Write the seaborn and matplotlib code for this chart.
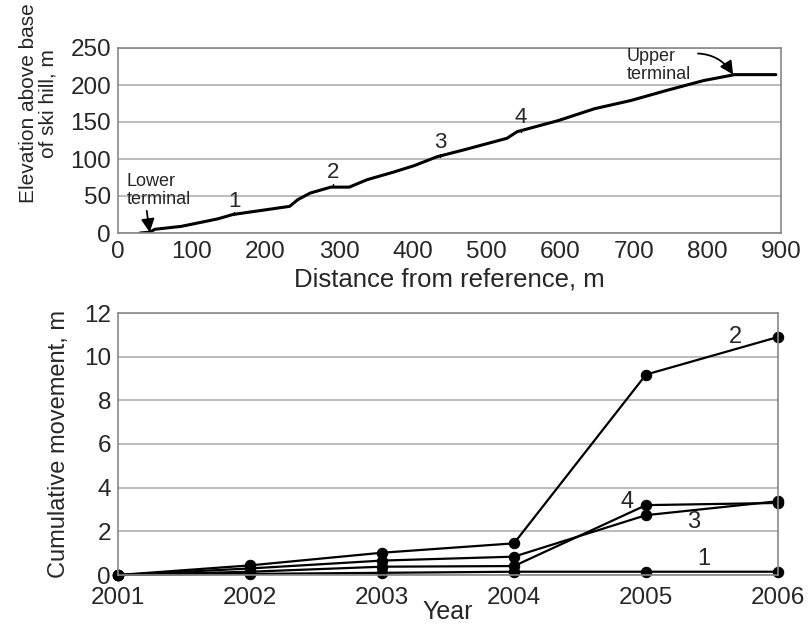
import matplotlib
matplotlib.use("Agg")
import matplotlib.pyplot as plt
import seaborn as sns
import pandas as pd

# ---- data: elevation profile ----
distance_m = [30, 43, 50, 86, 135, 156, 191, 233, 244, 261, 289, 314, 338, 373,
              402, 433, 472, 528, 542, 598, 647, 696, 746, 795, 837, 893]
elevation_m = [0, 1, 5, 9, 19, 25, 30, 36, 45, 54, 62, 62, 72, 82,
               91, 103, 113, 128, 137, 152, 168, 179, 193, 206, 214, 214]
station_labels = ["1", "2", "3", "4"]
station_dist = [158, 292, 437, 547]
station_elev = [24, 62, 103, 137]

# ---- data: cumulative movement ----
years = [2001, 2002, 2003, 2004, 2005, 2006]
move_1 = [0.0, 0.05, 0.10, 0.15, 0.15, 0.15]
move_2 = [0.0, 0.44, 1.02, 1.45, 9.18, 10.9]
move_3 = [0.0, 0.30, 0.66, 0.84, 2.74, 3.38]
move_4 = [0.0, 0.15, 0.38, 0.41, 3.20, 3.30]
series_names = ["1", "2", "3", "4"]

REG = ["Liberation Sans", "DejaVu Sans"]

sns.set_style("white")
plt.rcParams["font.family"] = REG

fig = plt.figure(figsize=(8.09, 6.29), dpi=100)
ax1 = fig.add_axes([118 / 809, 1 - 233 / 629, 663 / 809, 185 / 629])
ax2 = fig.add_axes([118 / 809, 1 - 575 / 629, 660 / 809, 262 / 629])

grid_c = "#b0b0b0"

# ---------- top plot ----------
prof = pd.DataFrame({"d": distance_m, "e": elevation_m})
sns.lineplot(data=prof, x="d", y="e", ax=ax1, color="black", lw=2.2)
ax1.set_xlim(0, 900)
ax1.set_ylim(0, 250)
ax1.set_xticks(range(0, 901, 100))
ax1.set_yticks(range(0, 251, 50))
ax1.yaxis.grid(True, color=grid_c, lw=1.2)
ax1.set_axisbelow(True)
ax1.set_xlabel("Distance from reference, m", fontsize=18.5, labelpad=3)
ax1.set_ylabel("Elevation above base\nof ski hill, m", fontsize=15,
               linespacing=1.0)
ax1.yaxis.set_label_coords(-0.092, 0.70)
for lab, d, e in zip(station_labels, station_dist, station_elev):
    ax1.text(d, e + 5, lab, fontsize=16, ha="center", va="bottom")
    ax1.plot([d, d], [e, e + 4], color="black", lw=1)
ax1.text(12, 57, "Lower\nterminal", fontsize=13, ha="left", va="center",
         linespacing=1.05)
ax1.annotate("", xy=(43, 1), xytext=(39, 30),
             arrowprops=dict(arrowstyle="-|>", color="black", lw=1.3,
                             mutation_scale=20, shrinkA=0, shrinkB=0))
ax1.annotate("Upper\nterminal", xy=(835, 214), xytext=(690, 226), fontsize=13,
             ha="left", va="center", linespacing=1.05,
             arrowprops=dict(arrowstyle="-|>", color="black", lw=1.3,
                             mutation_scale=20, shrinkA=3, shrinkB=0,
                             relpos=(1.0, 0.85),
                             connectionstyle="arc3,rad=-0.3"))

# ---------- bottom plot ----------
rows = []
for name, vals in zip(series_names, [move_1, move_2, move_3, move_4]):
    for y, v in zip(years, vals):
        rows.append({"year": y, "move": v, "series": name})
mv = pd.DataFrame(rows)
sns.lineplot(data=mv, x="year", y="move", units="series", estimator=None,
             ax=ax2, color="black", lw=1.6, marker="o", markersize=7.5,
             markeredgecolor="black", markerfacecolor="black", clip_on=False)
ax2.set_xlim(2001, 2006)
ax2.set_ylim(0, 12)
ax2.set_xticks(years)
ax2.set_yticks(range(0, 13, 2))
ax2.yaxis.grid(True, color=grid_c, lw=1.2)
ax2.set_axisbelow(True)
ax2.set_xlabel("Year", fontsize=18, labelpad=-7)
ax2.set_ylabel("Cumulative movement, m", fontsize=17)
ax2.yaxis.set_label_coords(-0.073, 0.5)
label_pos = {"1": (2005.44, 0.72), "2": (2005.68, 10.9),
             "3": (2005.36, 2.44), "4": (2004.86, 3.35)}
for name in series_names:
    x, y = label_pos[name]
    ax2.text(x, y, name, fontsize=17, ha="center", va="center")

for ax in (ax1, ax2):
    for sp in ax.spines.values():
        sp.set_color("#888888")
        sp.set_linewidth(1.2)
    ax.tick_params(axis="both", labelsize=17.5, length=4, width=1, color="#888888",
                   pad=1, direction="out")
ax1.tick_params(axis="x", length=0, pad=6)
ax2.tick_params(axis="x", length=0, pad=9)

fig.savefig("out.png", dpi=100, facecolor="white")
